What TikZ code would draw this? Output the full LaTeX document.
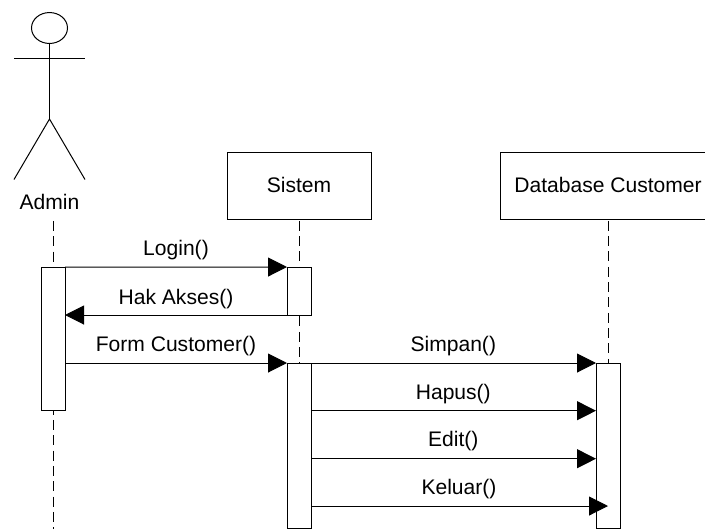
\documentclass[tikz,border=0pt]{standalone}
\usepackage{fontspec}
\setmainfont{Liberation Sans}
\usetikzlibrary{arrows.meta}
\usetikzlibrary{shapes.geometric}
\tikzset{
  objek/.style={draw, fill=white, line width=.75pt, outer sep=0pt, inner sep=0pt, minimum height=50pt},
  aktivasi/.style={draw, fill=white, line width=.75pt, outer sep=0pt, inner sep=0pt, minimum width=18pt},
  lifeline/.style={line width=.75pt, dash pattern=on 7.5pt off 4pt, dash phase=10.4pt},
  pesan/.style={line width=.75pt, -{Triangle[length=14.25pt,width=14.25pt]}},
  teks/.style={anchor=base, inner sep=0pt, font=\fontsize{15.8pt}{18pt}\selectfont},
  aktor/.style={line width=.75pt}
}
\begin{document}
\begin{tikzpicture}[x=.75pt, y=-.75pt]
  \useasboundingbox (0,0) rectangle (705,529);
  \clip (0,0) rectangle (705,529);

  % Actor
  \node[ellipse, draw, line width=.75pt, inner sep=0pt, outer sep=0pt, minimum width=27pt, minimum height=23.2pt] (kepala) at (49.5,28) {};
  \coordinate (pinggul) at (49.5,119);
  \coordinate (bahuKiri) at (14,58);
  \coordinate (bahuKanan) at (85,58);
  \coordinate (kakiKiri) at (14,179.5);
  \coordinate (kakiKanan) at (85,179.5);
  \draw[aktor] (kepala.south) -- (pinggul);
  \draw[aktor] (bahuKiri) -- (bahuKanan);
  \draw[aktor] (kakiKiri) -- (pinggul) -- (kakiKanan);
  \node[teks] (admin) at (49.5,209) {Admin};

  % Objects
  \node[objek, minimum width=108pt] (sistem) at (299,186) {};
  \node[objek, minimum width=162pt] (database) at (608,186) {};
  \node[teks] (labelSistem) at (299,192.5) {Sistem};
  \node[teks] (labelDatabase) at (608,192.5) {Database Customer};

  % Activation bars
  \node[aktivasi, minimum height=107.8pt] (aktAdmin) at (53,339) {};
  \node[aktivasi, minimum height=36pt] (aktSistemA) at (299,291) {};
  \node[aktivasi, minimum height=123.75pt] (aktSistemB) at (299,445.5) {};
  \node[aktivasi, minimum height=123.75pt] (aktDatabase) at (608,445.5) {};

  % Lifelines
  \coordinate (atasAdmin) at (53,219.5);
  \coordinate (bawahAdmin) at (53,529);
  \draw[lifeline] (atasAdmin) -- (aktAdmin.north);
  \draw[lifeline, dash phase=4.7pt] (aktAdmin.south) -- (bawahAdmin);
  \draw[lifeline] (sistem.south) -- (aktSistemA.north);
  \draw[lifeline] (aktSistemA.south) -- (aktSistemB.north);
  \draw[lifeline] (database.south) -- (aktDatabase.north);

  % Messages
  \coordinate (barisHapus) at (0,410.7);
  \coordinate (barisEdit) at (0,458.7);
  \coordinate (barisKeluar) at (0,506);
  \draw[pesan] (aktAdmin.north east) -- (aktSistemA.north west);
  \draw[pesan] (aktSistemA.south west) -- (aktAdmin.east |- aktSistemA.south west);
  \draw[pesan] (aktAdmin.east |- aktSistemB.north west) -- (aktSistemB.north west);
  \draw[pesan] (aktSistemB.north east) -- (aktDatabase.north west);
  \draw[pesan] (aktSistemB.east |- barisHapus) -- (aktDatabase.west |- barisHapus);
  \draw[pesan] (aktSistemB.east |- barisEdit) -- (aktDatabase.west |- barisEdit);
  \draw[pesan] (aktSistemB.east |- barisKeluar) -- (aktDatabase.center |- barisKeluar);

  % Message labels
  \node[teks] (login) at (176,255) {Login()};
  \node[teks] (hakAkses) at (176,304) {Hak Akses()};
  \node[teks] (formCustomer) at (176,351) {Form Customer()};
  \node[teks] (simpan) at (453.3,351) {Simpan()};
  \node[teks] (hapus) at (453.3,399.3) {Hapus()};
  \node[teks] (edit) at (453.3,446.7) {Edit()};
  \node[teks] (keluar) at (459,494.3) {Keluar()};
\end{tikzpicture}
\end{document}
